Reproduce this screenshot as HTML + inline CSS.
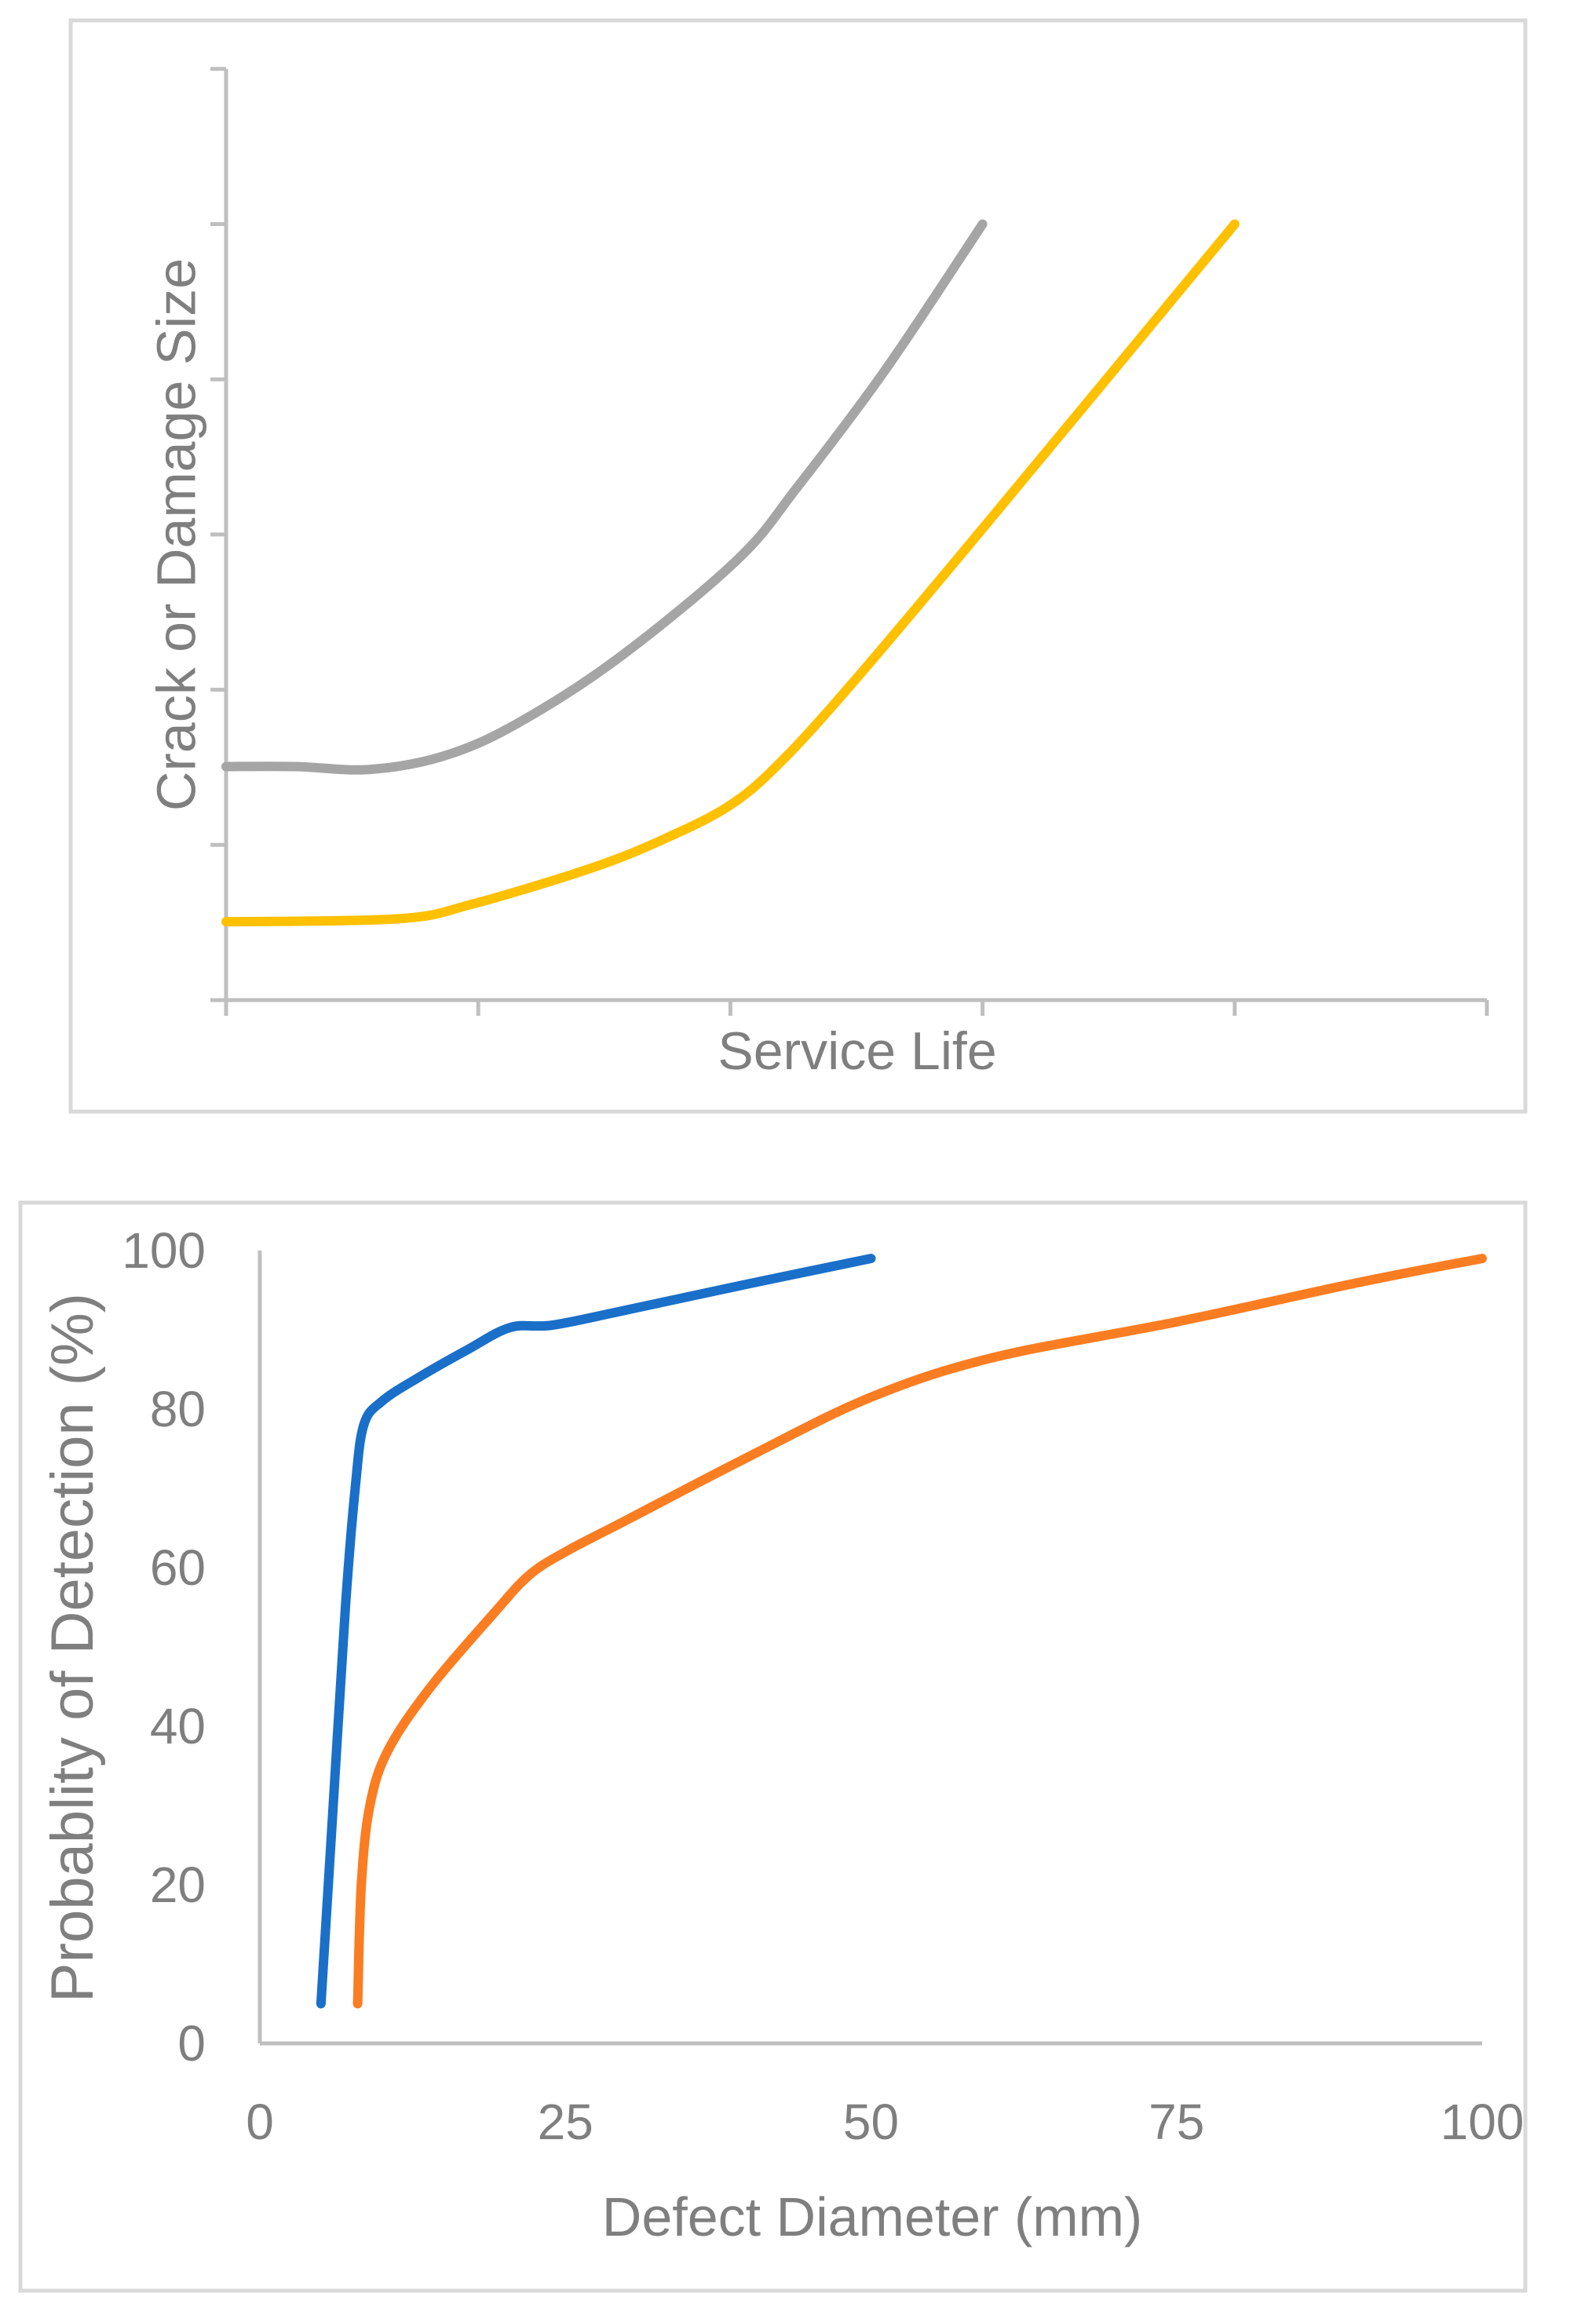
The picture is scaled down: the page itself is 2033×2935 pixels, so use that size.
<!DOCTYPE html>
<html><head><meta charset="utf-8"><style>
html,body{margin:0;padding:0;background:#fff;}
svg{display:block;}
text{font-family:"Liberation Sans Narrow","Liberation Sans",sans-serif;fill:#7f7f7f;}
</style></head><body>
<svg id="svg" width="2033" height="2935" viewBox="0 0 2033 2935" xmlns="http://www.w3.org/2000/svg">
<rect x="90" y="26" width="1853" height="1390" fill="none" stroke="#d9d9d9" stroke-width="5"/>
<rect x="26" y="1532" width="1917" height="1386" fill="none" stroke="#d9d9d9" stroke-width="5"/>
<g id="topChart"></g>
<g id="botChart"></g>
<text x="230" y="681" font-size="70" text-anchor="middle" dominant-baseline="middle" transform="rotate(-90 230 681)" style="font-family:'Liberation Sans',sans-serif">Crack or Damage Size</text>
<text x="1092" y="1362" font-size="68" text-anchor="middle">Service Life</text>
<text x="98" y="2099" font-size="76" text-anchor="middle" dominant-baseline="middle" transform="rotate(-90 98 2099)" style="font-family:'Liberation Sans',sans-serif">Probablity of Detection (%)</text>
<text x="1111" y="2848" font-size="70" text-anchor="middle">Defect Diameter (mm)</text>
</svg>
<script>
// top chart data (arbitrary units)
const topXTicks = [0,1,2,3,4,5];
const topYTicks = [0,1,2,3,4,5,6];
const grayX = [0,0.275,0.567,0.86,1.152,1.561,2.029,2.263,2.614,3.0];
const grayY = [1.505,1.505,1.486,1.571,1.78,2.21,2.84,3.30,4.06,5.0];
const yellowX = [0,0.684,0.977,1.444,1.737,2.0,2.205,2.497,3.0,4.0];
const yellowY = [0.505,0.524,0.619,0.848,1.038,1.257,1.543,2.067,3.038,5.0];
// bottom chart data
const podXTicks = [0,25,50,75,100];
const podYTicks = [0,20,40,60,80,100];
const blueX = [5,6,7,7.8,8.5,10,13,17,20.5,24,30,40,50];
const blueY = [5,30,55,70,78,81,84,87.5,90.3,90.6,92.5,95.8,99];
const orangeX = [8,8.3,9,10.5,14,19,22,25,30,40,50,60,75,90,100];
const orangeY = [5,20,30,37,45,54,59,62,66,74,81.5,86.5,91,96,99];

const NS = "http://www.w3.org/2000/svg";
function mk(tag, attrs, parent){const e=document.createElementNS(NS,tag);for(const k in attrs)e.setAttribute(k,attrs[k]);parent.appendChild(e);return e;}
function smooth(xs, ys, sx, sy){
  const p = xs.map((x,i)=>[sx(x),sy(ys[i])]);
  let d = "M"+p[0][0]+","+p[0][1];
  for(let i=0;i<p.length-1;i++){
    const p0=p[i-1]||p[i], p1=p[i], p2=p[i+1], p3=p[i+2]||p2;
    const c1=[p1[0]+(p2[0]-p0[0])/6, p1[1]+(p2[1]-p0[1])/6];
    const c2=[p2[0]-(p3[0]-p1[0])/6, p2[1]-(p3[1]-p1[1])/6];
    d+=" C"+c1[0]+","+c1[1]+" "+c2[0]+","+c2[1]+" "+p2[0]+","+p2[1];
  }
  return d;
}
// top chart
const topG = document.getElementById('topChart');
const tx = v => 288 + v*321.2;
const ty = v => 1274 - v*197.7;
const tyAxis = mk('line',{x1:tx(0),y1:ty(6),x2:tx(0),y2:ty(0),stroke:'#bfbfbf','stroke-width':5},topG);


const txAxis = mk('line',{x1:tx(0),y1:ty(0),x2:tx(5),y2:ty(0),stroke:'#bfbfbf','stroke-width':5},topG);


topYTicks.forEach(v=>{
  const t = mk('line',{x1:tx(0)-20,y1:ty(v),x2:tx(0),y2:ty(v),stroke:'#bfbfbf','stroke-width':5},topG);
  
  
});
topXTicks.forEach(v=>{
  const t = mk('line',{x1:tx(v),y1:ty(0),x2:tx(v),y2:ty(0)+20,stroke:'#bfbfbf','stroke-width':5},topG);
  
  
});
const g1 = mk('path',{d:smooth(grayX,grayY,tx,ty),fill:'none',stroke:'#a5a5a5','stroke-width':12,'stroke-linecap':'round'},topG);


const y1 = mk('path',{d:smooth(yellowX,yellowY,tx,ty),fill:'none',stroke:'#ffc000','stroke-width':12,'stroke-linecap':'round'},topG);


// bottom chart
const botG = document.getElementById('botChart');
const bx = v => 331 + v*15.57;
const by = v => 2603 - v*10.1;
const byAxis = mk('line',{x1:bx(0),y1:by(100),x2:bx(0),y2:by(0),stroke:'#bfbfbf','stroke-width':5},botG);


const bxAxis = mk('line',{x1:bx(0),y1:by(0),x2:bx(100),y2:by(0),stroke:'#bfbfbf','stroke-width':5},botG);


podYTicks.forEach(v=>{
  const t = mk('text',{x:262,y:by(v)+22,'font-size':64,'text-anchor':'end'},botG);
  t.textContent = v;
  
  
});
podXTicks.forEach(v=>{
  const t = mk('text',{x:bx(v),y:2725,'font-size':64,'text-anchor':'middle'},botG);
  t.textContent = v;
  
  
});
const bl = mk('path',{d:smooth(blueX,blueY,bx,by),fill:'none',stroke:'#1a6fc9','stroke-width':12,'stroke-linecap':'round'},botG);


const or = mk('path',{d:smooth(orangeX,orangeY,bx,by),fill:'none',stroke:'#fb7d22','stroke-width':12,'stroke-linecap':'round'},botG);


</script>
</body></html>
